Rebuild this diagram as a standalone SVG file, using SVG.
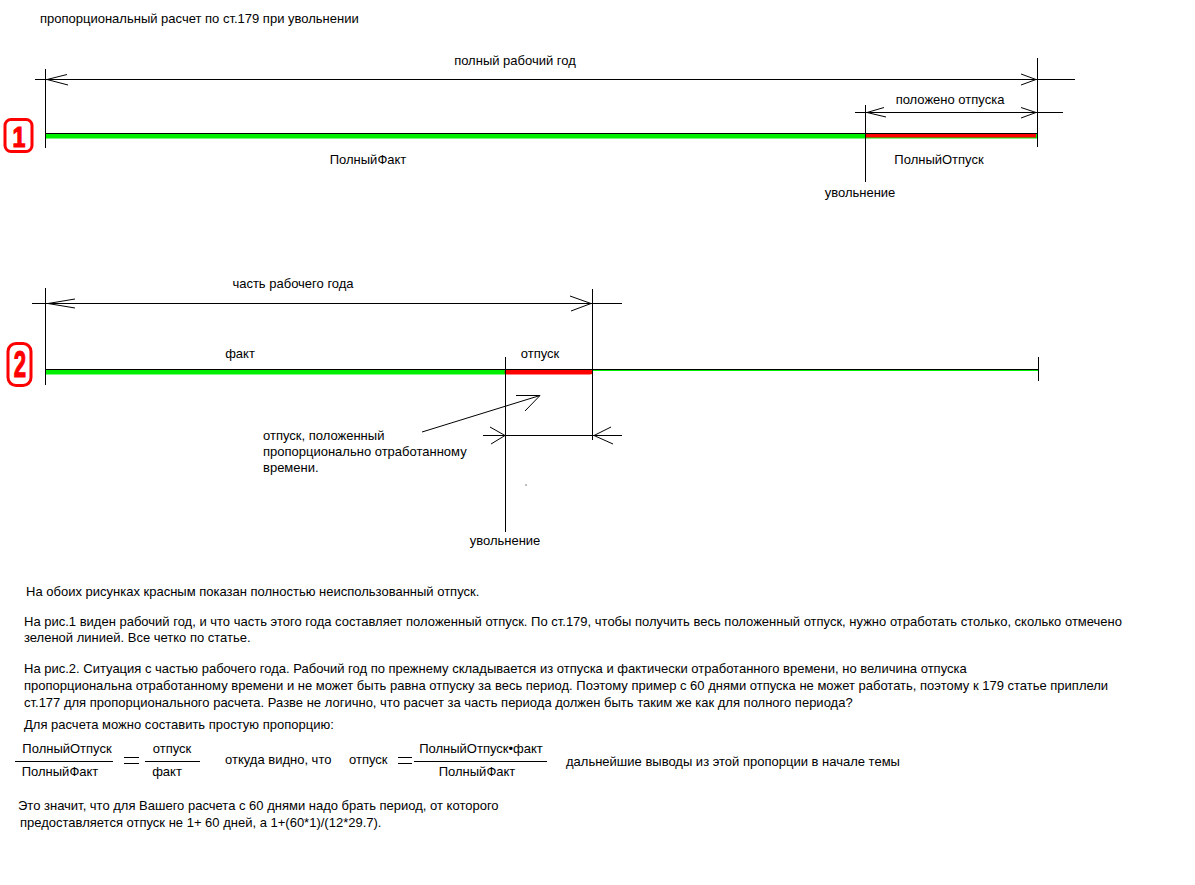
<svg xmlns="http://www.w3.org/2000/svg" width="1195" height="885" viewBox="0 0 1195 885">
<style>
text{font-family:"Liberation Sans",Arial,sans-serif;font-size:13px;fill:#000}
.m{text-anchor:middle}
.ln{stroke:#000;stroke-width:1;fill:none}
.ah{stroke:#000;stroke-width:1;fill:none}
.badge{fill:none;stroke:#ff0000;stroke-width:3}
text.num{font-family:"Liberation Sans",Arial,sans-serif;font-weight:bold;fill:#ff0000;stroke:#ff0000;stroke-width:1.2}
</style>
<rect width="1195" height="885" fill="#fff"/>
<g id="title"><text x="40" y="23">пропорциональный расчет по ст.179 при увольнении</text></g>

<g id="fig1">
  <g id="badge1">
    <rect class="badge" x="5" y="119.5" width="27" height="32" rx="6"/>
    <text class="num m" x="19" y="147" style="font-size:29px" transform="translate(19 0) scale(0.8 1) translate(-19 0)">1</text>
  </g>
  <g id="bar1">
    <rect x="46" y="133.5" width="991" height="5" fill="#00ee00"/>
    <rect x="866" y="133.5" width="170" height="4" fill="#ff0000"/>
    <line class="ln" x1="45" y1="133.5" x2="1037" y2="133.5"/>
  </g>
  <text class="m" x="515" y="65">полный рабочий год</text>
  <text class="m" x="950" y="104">положено отпуска</text>
  <text class="m" x="368" y="164">ПолныйФакт</text>
  <text class="m" x="939" y="164">ПолныйОтпуск</text>
  <text class="m" x="860" y="197">увольнение</text>
</g>

<g id="fig2">
  <g id="badge2">
    <rect class="badge" x="8" y="343.5" width="23" height="42" rx="8"/>
    <text class="num m" x="20" y="377" style="font-size:37px" transform="translate(20 0) scale(0.6 1) translate(-20 0)">2</text>
  </g>
  <g id="bar2">
    <rect x="46" y="369.5" width="459" height="5" fill="#00ee00"/>
    <line x1="507" y1="372" x2="590" y2="372" stroke="#ff0000" stroke-width="5" stroke-linecap="round"/>
    <line x1="592" y1="370.5" x2="1038" y2="370.5" stroke="#00ee00" stroke-width="1"/>
    <line class="ln" x1="45" y1="369.5" x2="592" y2="369.5"/>
    <line class="ln" x1="592" y1="369.5" x2="1038" y2="369.5" stroke="#3c6e3c"/>
  </g>
  <text class="m" x="293" y="288">часть рабочего года</text>
  <text class="m" x="240" y="358">факт</text>
  <text class="m" x="540" y="358">отпуск</text>
  <text x="263" y="440">отпуск, положенный</text>
  <text x="263" y="456">пропорционально отработанному</text>
  <text x="263" y="472">времени.</text>
  <rect x="525.5" y="484.5" width="1" height="1" fill="#000"/>
  <text class="m" x="505" y="545">увольнение</text>
</g>

<g id="connectors">
  <line class="ln" x1="45.5" y1="69" x2="45.5" y2="148"/>
  <line class="ln" x1="1037.5" y1="58" x2="1037.5" y2="147"/>
  <line class="ln" x1="865.5" y1="105" x2="865.5" y2="182"/>
  <line class="ln" x1="35" y1="79.5" x2="1075" y2="79.5"/>
  <line class="ln" x1="855" y1="112.5" x2="1063" y2="112.5"/>
  <polyline class="ah" points="67,74.5 47,79.5 68,85"/>
  <polyline class="ah" points="1021,74 1036,79.5 1021,85"/>
  <polyline class="ah" points="884,107.5 867,112.5 886,117"/>
  <polyline class="ah" points="1021,107.5 1036,112.5 1021,118"/>
  <line class="ln" x1="45.5" y1="288" x2="45.5" y2="385"/>
  <line class="ln" x1="592.5" y1="289" x2="592.5" y2="440"/>
  <line class="ln" x1="505.5" y1="357" x2="505.5" y2="532"/>
  <line class="ln" x1="1038.5" y1="357" x2="1038.5" y2="381"/>
  <line class="ln" x1="32" y1="303.5" x2="622" y2="303.5"/>
  <line class="ln" x1="483" y1="435.5" x2="622" y2="435.5"/>
  <polyline class="ah" points="75,299 48,303.5 75,308"/>
  <polyline class="ah" points="570,296 591,303.5 571,311"/>
  <polyline class="ah" points="490,427 505,435.5 491,444"/>
  <polyline class="ah" points="611,427 594,435.5 613,444"/>
  <line class="ln" x1="422" y1="432" x2="540" y2="395.5"/>
  <polyline class="ah" points="516,395.5 540,395.5 525,411"/>
</g>

<g id="notes">
  <text x="26" y="596">На обоих рисунках красным показан полностью неиспользованный отпуск.</text>
  <text x="24" y="626">На рис.1 виден рабочий год, и что часть этого года составляет положенный отпуск. По ст.179, чтобы получить весь положенный отпуск, нужно отработать столько, сколько отмечено</text>
  <text x="24" y="642">зеленой линией. Все четко по статье.</text>
  <text x="24" y="673">На рис.2. Ситуация с частью рабочего года. Рабочий год по прежнему складывается из отпуска и фактически отработанного времени, но величина отпуска</text>
  <text x="24" y="690">пропорциональна отработанному времени и не может быть равна отпуску за весь период. Поэтому пример с 60 днями отпуска не может работать, поэтому к 179 статье приплели</text>
  <text x="24" y="707">ст.177 для пропорционального расчета. Разве не логично, что расчет за часть периода должен быть таким же как для полного периода?</text>
  <text x="24" y="729">Для расчета можно составить простую пропорцию:</text>
</g>

<g id="formula">
  <text class="m" x="67" y="753">ПолныйОтпуск</text>
  <line class="ln" x1="15" y1="761.5" x2="113" y2="761.5"/>
  <text class="m" x="60" y="776">ПолныйФакт</text>
  <line class="ln" x1="124" y1="757.5" x2="139" y2="757.5"/>
  <line class="ln" x1="124" y1="763.5" x2="139" y2="763.5"/>
  <text class="m" x="172" y="753">отпуск</text>
  <line class="ln" x1="145" y1="761.5" x2="200" y2="761.5"/>
  <text class="m" x="167" y="776">факт</text>
  <text x="225" y="764">откуда видно, что</text>
  <text x="349" y="764">отпуск</text>
  <line class="ln" x1="398" y1="757.5" x2="412" y2="757.5"/>
  <line class="ln" x1="398" y1="763.5" x2="412" y2="763.5"/>
  <text class="m" x="481" y="753">ПолныйОтпуск•факт</text>
  <line class="ln" x1="414" y1="761.5" x2="547" y2="761.5"/>
  <text class="m" x="477" y="776">ПолныйФакт</text>
  <text x="566" y="766">дальнейшие выводы из этой пропорции в начале темы</text>
</g>

<g id="conclusion">
  <text x="18" y="810">Это значит, что для Вашего расчета с 60 днями надо брать период, от которого</text>
  <text x="20" y="827">предоставляется отпуск не 1+ 60 дней, а 1+(60*1)/(12*29.7).</text>
</g>
</svg>
